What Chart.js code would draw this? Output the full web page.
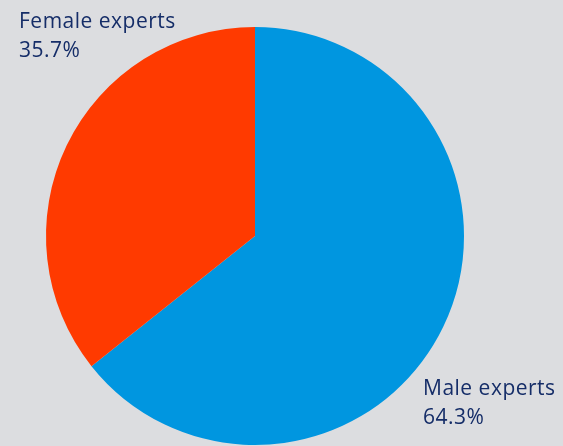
<!DOCTYPE html>
<html><head><meta charset="utf-8">
<script src="https://cdn.jsdelivr.net/npm/chart.js@4/dist/chart.umd.min.js"></script>
<style>html,body{margin:0;padding:0;background:#dcdde0;}#wrap{width:563px;height:446px;position:relative;}</style>
</head><body><div id="wrap"><canvas id="c" width="563" height="446"></canvas></div>
<script>
const categories = ["Male experts", "Female experts"];
const values = [64.3, 35.7];
const colors = ["#0096e0", "#ff3a00"];

const labelPlugin = {
  id: 'labels',
  afterDraw(chart) {
    const ctx = chart.ctx;
    const meta = chart.getDatasetMeta(0);
    const arc = meta.data[0];
    const cx = arc.x, cy = arc.y;
    ctx.save();
    ctx.fillStyle = '#152d68';
    ctx.font = '21px "Open Sans", sans-serif';
    ctx.letterSpacing = '0.5px';
    ctx.textBaseline = 'alphabetic';
    ctx.textAlign = 'left';
    ctx.fillText(categories[1], cx - 236, cy - 208);
    ctx.fillText(values[1].toFixed(1) + '%', cx - 236, cy - 179);
    ctx.fillText(categories[0], cx + 168, cy + 159);
    ctx.fillText(values[0].toFixed(1) + '%', cx + 168, cy + 188);
    ctx.restore();
  }
};

new Chart(document.getElementById('c'), {
  type: 'pie',
  data: { labels: categories, datasets: [{ data: values, backgroundColor: colors, borderWidth: 0 }] },
  options: {
    responsive: false,
    animation: false,
    layout: { padding: { top: 27, bottom: 1, left: 46, right: 99 } },
    plugins: { legend: { display: false }, tooltip: { enabled: false } }
  },
  plugins: [labelPlugin]
});
</script></body></html>
